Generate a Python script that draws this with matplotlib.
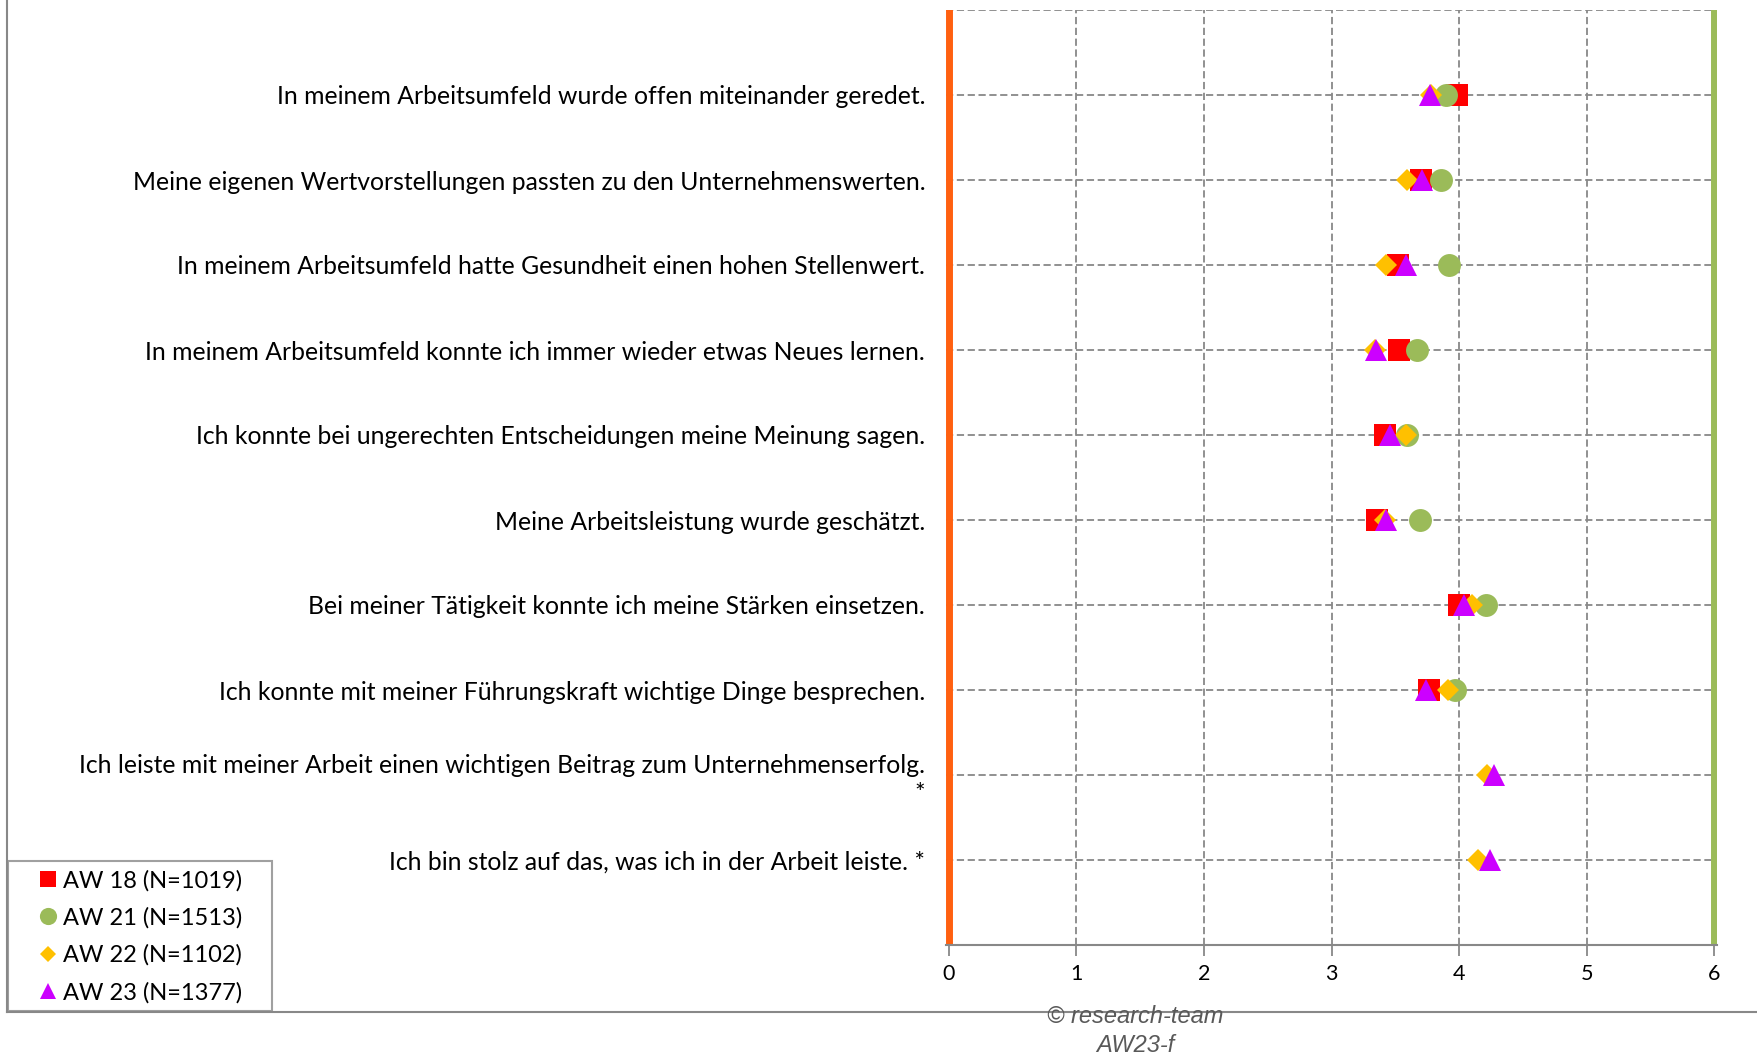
import numpy as np
import matplotlib.pyplot as plt
from matplotlib.lines import Line2D
from matplotlib.patches import Rectangle

# Aussagen (von oben nach unten)
aussagen = [
    "In meinem Arbeitsumfeld wurde offen miteinander geredet.",
    "Meine eigenen Wertvorstellungen passten zu den Unternehmenswerten.",
    "In meinem Arbeitsumfeld hatte Gesundheit einen hohen Stellenwert.",
    "In meinem Arbeitsumfeld konnte ich immer wieder etwas Neues lernen.",
    "Ich konnte bei ungerechten Entscheidungen meine Meinung sagen.",
    "Meine Arbeitsleistung wurde geschätzt.",
    "Bei meiner Tätigkeit konnte ich meine Stärken einsetzen.",
    "Ich konnte mit meiner Führungskraft wichtige Dinge besprechen.",
    "Ich leiste mit meiner Arbeit einen wichtigen Beitrag zum Unternehmenserfolg.\n*",
    "Ich bin stolz auf das, was ich in der Arbeit leiste. *",
]

aw18 = [3.98, 3.70, 3.52, 3.53, 3.42, 3.36, 4.00, 3.76, np.nan, np.nan]
aw21 = [3.90, 3.86, 3.92, 3.67, 3.59, 3.69, 4.21, 3.97, np.nan, np.nan]
aw22 = [3.78, 3.59, 3.43, 3.34, 3.58, 3.42, 4.10, 3.91, 4.22, 4.15]
aw23 = [3.77, 3.71, 3.58, 3.35, 3.46, 3.43, 4.04, 3.74, 4.27, 4.24]

serien = ["AW 18 (N=1019)", "AW 21 (N=1513)", "AW 22 (N=1102)", "AW 23 (N=1377)"]
werte = [aw18, aw21, aw22, aw23]
marker = ["s", "o", "D", "^"]
groesse = [15.5, 16.5, 11, 16]
farben = ["#FF0000", "#9BBB59", "#FFC000", "#CC00FF"]

skala_min, skala_max = 0, 6

plt.rcParams['font.family'] = ['Lato', 'DejaVu Sans']

W, H = 1757, 1054
fig = plt.figure(figsize=(W / 100, H / 100), dpi=100)
ax = fig.add_axes([946/W, 1 - 945/H, 771/W, 935/H])

pos = np.arange(1, len(aussagen) + 1)

# Gitter
for p in pos:
    ax.axhline(p, color="#888888", lw=1.3, ls=(0, (4, 2)), zorder=1)
ax.axhline(0, color="#888888", lw=1.3, ls=(0, (4, 2)), zorder=1)
for x in range(1, 6):
    ax.axvline(x, color="#888888", lw=1.3, ls=(0, (4, 2)), zorder=1)

# Skalenenden
ax.axvline(skala_min, color="#FF6010", lw=5, zorder=2)
ax.axvline(skala_max, color="#9BBB59", lw=5, zorder=2)

for name, w, m, s, c in zip(serien, werte, marker, groesse, farben):
    ax.plot(w, pos, ls="none", marker=m, ms=s, color=c, mec=c, mew=0,
            label=name, zorder=3, clip_on=False)

ax.set_xlim(-0.02, 6.02)
ax.set_ylim(11, 0)
ax.set_xticks(range(0, 7))
ax.set_yticks(pos)
ax.set_yticklabels(aussagen, fontsize=17.8, linespacing=1.25)
ax.tick_params(axis="y", length=0, pad=15)
ax.tick_params(axis="x", length=8, color="#888888", width=1.3, labelsize=15.5, pad=6)

for sp in ["top", "left", "right"]:
    ax.spines[sp].set_visible(False)
ax.spines["bottom"].set_color("#888888")
ax.spines["bottom"].set_linewidth(1.5)

# Rahmen des Diagrammbereichs
fig.add_artist(Line2D([7/W, 7/W], [1 - 1012/H, 1], color="#888888", lw=1.5))
fig.add_artist(Line2D([7/W, 1], [1 - 1012/H, 1 - 1012/H], color="#888888", lw=1.5))

# Legende mit eigenem Rahmen
fig.add_artist(Rectangle((8/W, 1 - 1011/H), 264/W, 150/H, transform=fig.transFigure,
                         fill=True, facecolor="white", edgecolor="#A0A0A0", lw=1.5))
leg = fig.legend(loc="center left", bbox_to_anchor=(36/W, 1 - 936.5/H),
                 fontsize=17, frameon=False, handlelength=1.0, handletextpad=0.15,
                 borderpad=0, labelspacing=0.67, borderaxespad=0)
for h in leg.legend_handles:
    h.set_markersize(h.get_markersize() * 0.75)

fig.text(1135/W, 1 - 1031/H, "© research-team\nAW23-f", ha="center", va="center",
         fontsize=17, style="italic", color="#595959", family="Liberation Sans",
         linespacing=1.3)

fig.savefig("out.png", dpi=100)
